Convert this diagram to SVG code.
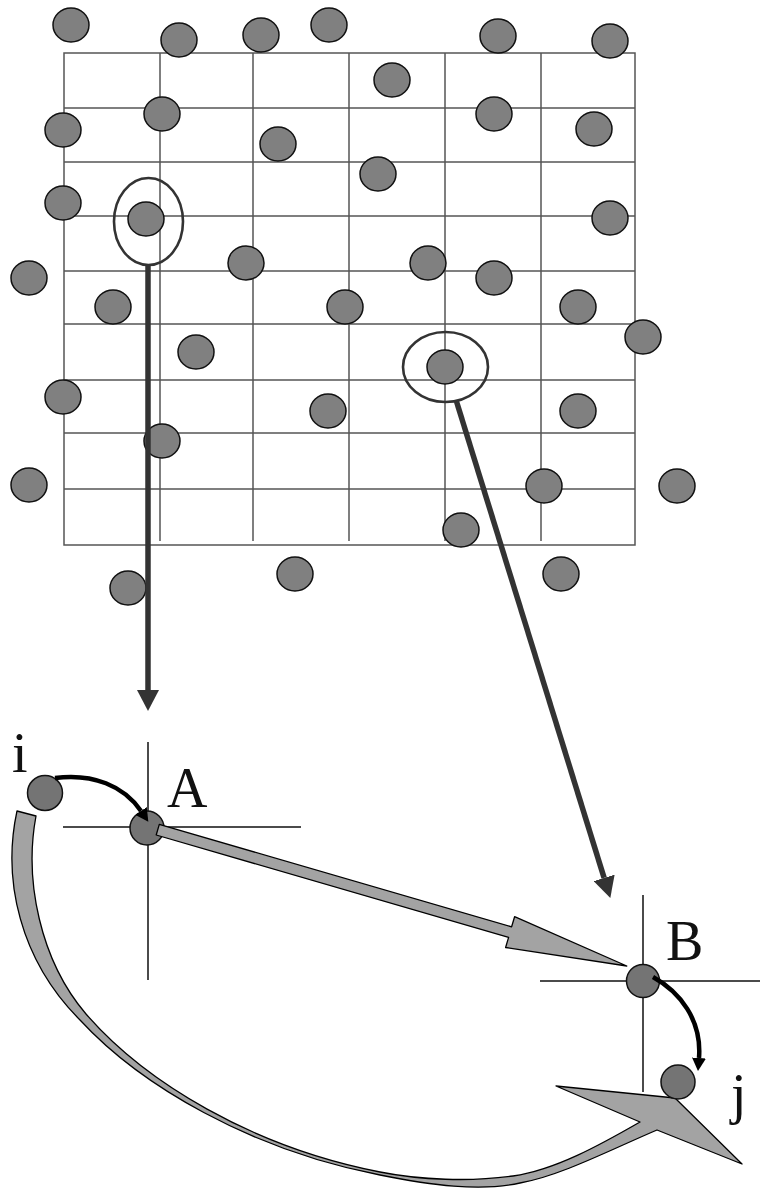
<svg xmlns="http://www.w3.org/2000/svg" width="760" height="1193" viewBox="0 0 760 1193">
<style>
.grid{stroke:#555;stroke-width:1.5;fill:none}
.dot{fill:#808080;stroke:#111;stroke-width:1.5}
.key{fill:#747474;stroke:#111;stroke-width:1.5}
.ring{fill:none;stroke:#333;stroke-width:2.6}
.conn{stroke:#333;stroke-width:5.5;fill:none}
.cross{stroke:#111;stroke-width:1.5}
.band{fill:#a3a3a3;stroke:#000;stroke-width:1.3;stroke-linejoin:round}
.curve{fill:none;stroke:#000;stroke-width:4.5}
.lbl{font-family:"Liberation Serif","Times New Roman",serif;font-size:56px;fill:#111}
</style>
<defs>
<marker id="ah" markerUnits="userSpaceOnUse" markerWidth="22" markerHeight="22" viewBox="0 0 22 22" refX="0" refY="11" orient="auto">
<path d="M0,0 L21,11 L0,22 Z" fill="#333"/>
</marker>
<marker id="bh" markerUnits="userSpaceOnUse" markerWidth="14" markerHeight="14" viewBox="0 0 14 14" refX="0" refY="7" orient="auto">
<path d="M0,0 L13,7 L0,14 Z" fill="#000"/>
</marker>
</defs>
<rect width="760" height="1193" fill="#fff"/>
<g id="grid" class="grid">
<rect x="64" y="53" width="571" height="492"/>
<path d="M160,53V541M253,53V541M349,53V541M445,53V541M541,53V541"/>
<path d="M64,108H635M64,162H635M64,216H635M64,271H635M64,324H635M64,380H635M64,433H635M64,489H635"/>
</g>
<g id="points">
<ellipse id="p1" class="dot" cx="71" cy="25" rx="18" ry="17"/>
<ellipse id="p2" class="dot" cx="179" cy="40" rx="18" ry="17"/>
<ellipse id="p3" class="dot" cx="261" cy="35" rx="18" ry="17"/>
<ellipse id="p4" class="dot" cx="329" cy="25" rx="18" ry="17"/>
<ellipse id="p5" class="dot" cx="498" cy="36" rx="18" ry="17"/>
<ellipse id="p6" class="dot" cx="610" cy="41" rx="18" ry="17"/>
<ellipse id="p7" class="dot" cx="392" cy="80" rx="18" ry="17"/>
<ellipse id="p8" class="dot" cx="162" cy="114" rx="18" ry="17"/>
<ellipse id="p9" class="dot" cx="494" cy="114" rx="18" ry="17"/>
<ellipse id="p10" class="dot" cx="63" cy="130" rx="18" ry="17"/>
<ellipse id="p11" class="dot" cx="594" cy="129" rx="18" ry="17"/>
<ellipse id="p12" class="dot" cx="278" cy="144" rx="18" ry="17"/>
<ellipse id="p13" class="dot" cx="378" cy="174" rx="18" ry="17"/>
<ellipse id="p14" class="dot" cx="63" cy="203" rx="18" ry="17"/>
<ellipse id="p16" class="dot" cx="610" cy="218" rx="18" ry="17"/>
<ellipse id="p17" class="dot" cx="29" cy="278" rx="18" ry="17"/>
<ellipse id="p18" class="dot" cx="246" cy="263" rx="18" ry="17"/>
<ellipse id="p19" class="dot" cx="428" cy="263" rx="18" ry="17"/>
<ellipse id="p20" class="dot" cx="494" cy="278" rx="18" ry="17"/>
<ellipse id="p21" class="dot" cx="113" cy="307" rx="18" ry="17"/>
<ellipse id="p22" class="dot" cx="345" cy="307" rx="18" ry="17"/>
<ellipse id="p23" class="dot" cx="578" cy="307" rx="18" ry="17"/>
<ellipse id="p24" class="dot" cx="643" cy="337" rx="18" ry="17"/>
<ellipse id="p25" class="dot" cx="196" cy="352" rx="18" ry="17"/>
<ellipse id="p27" class="dot" cx="63" cy="397" rx="18" ry="17"/>
<ellipse id="p28" class="dot" cx="328" cy="411" rx="18" ry="17"/>
<ellipse id="p29" class="dot" cx="578" cy="411" rx="18" ry="17"/>
<ellipse id="p30" class="dot" cx="162" cy="441" rx="18" ry="17"/>
<ellipse id="p31" class="dot" cx="29" cy="485" rx="18" ry="17"/>
<ellipse id="p32" class="dot" cx="544" cy="486" rx="18" ry="17"/>
<ellipse id="p33" class="dot" cx="677" cy="486" rx="18" ry="17"/>
<ellipse id="p34" class="dot" cx="461" cy="530" rx="18" ry="17"/>
<ellipse id="p35" class="dot" cx="295" cy="574" rx="18" ry="17"/>
<ellipse id="p36" class="dot" cx="128" cy="588" rx="18" ry="17"/>
<ellipse id="p37" class="dot" cx="561" cy="574" rx="18" ry="17"/>
</g>
<g id="selected-1">
<ellipse class="dot" cx="146" cy="219" rx="18" ry="17"/>
<ellipse class="ring" cx="148.5" cy="221.5" rx="34.5" ry="43.5"/>
</g>
<g id="selected-2">
<ellipse class="dot" cx="445" cy="367" rx="18" ry="17"/>
<ellipse class="ring" cx="445.5" cy="367" rx="42.5" ry="35"/>
</g>
<g id="crosshair-A" class="cross">
<path d="M148,742V980M63,827H301"/>
</g>
<g id="crosshair-B" class="cross">
<path d="M643,895V1092M540,981H760"/>
</g>
<g id="connectors">
<path class="conn" d="M148,265V690" marker-end="url(#ah)"/>
<path class="conn" d="M456.5,401.5L604.1,877.9" marker-end="url(#ah)"/>
<path id="loop-arrow" class="band" d="M17,811 C2,880 20,960 80,1020 C140,1085 250,1150 380,1175 C430,1185 480,1192 520,1183 C560,1176 610,1150 657,1130 L742,1164 L675,1098 L556,1086 L640,1122 C600,1145 555,1170 513,1176 C470,1182 420,1180 380,1172 C252,1147 145,1082 86,1014 C40,960 24,880 36,816 Z"/>
</g>
<g id="node-i">
<circle class="key" cx="45" cy="793" r="17.5"/>
<text class="lbl" x="12" y="772">i</text>
</g>
<g id="node-A">
<circle class="key" cx="147" cy="828" r="17"/>
<text class="lbl" x="167" y="807">A</text>
</g>
<g id="node-B">
<text class="lbl" x="666" y="960">B</text>
</g>
<g id="connectors-2">
<path id="AB-arrow" class="band" d="M159.3,824.4 L511.6,926.8 L514.6,916.7 L626.8,966 L505.6,947.5 L508.6,937.4 L156.2,835 Z"/>
</g>
<g id="node-B-dot">
<circle class="key" cx="643" cy="981" r="16.5"/>
</g>
<g id="node-j">
<circle class="key" cx="678" cy="1082" r="17"/>
<text class="lbl" x="731" y="1113">j</text>
</g>
<g id="connectors-3">
<path class="curve" d="M55,778 C93,773 124,786 141,811" marker-end="url(#bh)"/>
<path class="curve" d="M653,977 C680,992 702,1020 699,1058" marker-end="url(#bh)"/>
</g>
</svg>
